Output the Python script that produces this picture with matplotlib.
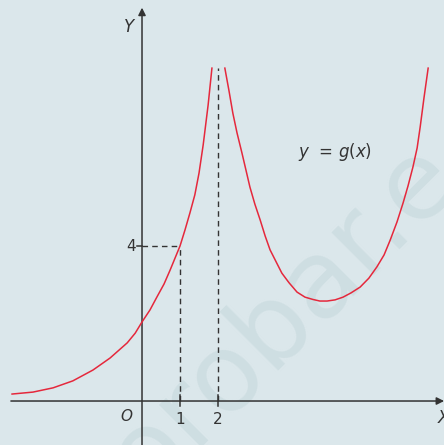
import matplotlib.pyplot as plt

left_x = [-3.42, -2.87, -2.34, -1.82, -1.29, -0.84, -0.39, -0.18, 0.0, 0.21, 0.39,
          0.58, 0.74, 0.87, 1.0, 1.13, 1.26, 1.39, 1.50, 1.61, 1.74, 1.84]
left_y = [0.18, 0.23, 0.34, 0.52, 0.80, 1.11, 1.50, 1.75, 2.04, 2.35, 2.68,
          3.02, 3.38, 3.69, 4.0, 4.41, 4.85, 5.32, 5.88, 6.61, 7.64, 8.59]

right_x = [2.18, 2.29, 2.39, 2.50, 2.63, 2.74, 2.84, 2.97, 3.11, 3.24, 3.37, 3.53,
           3.68, 3.87, 4.08, 4.29, 4.50, 4.68, 4.87, 5.08, 5.29, 5.50, 5.74, 5.97,
           6.18, 6.37, 6.53, 6.71, 6.87, 7.00, 7.13, 7.24, 7.32, 7.42, 7.53]
right_y = [8.59, 8.00, 7.43, 6.92, 6.40, 5.94, 5.52, 5.08, 4.67, 4.26, 3.90, 3.59,
           3.30, 3.05, 2.81, 2.68, 2.62, 2.58, 2.58, 2.61, 2.68, 2.79, 2.94, 3.17,
           3.46, 3.77, 4.15, 4.62, 5.11, 5.55, 6.04, 6.53, 7.07, 7.82, 8.59]

x_ticks = [1, 2]
y_ticks = [4]
top = 8.59

bg = "#dbe7eb"
axis_col = "#333333"
curve_col = "#e5283c"

fig = plt.figure(figsize=(4.44, 4.45), dpi=100, facecolor=bg)
ax = fig.add_axes([0, 0, 1, 1], facecolor=bg)
ax.set_xlim(-3.737, 7.947)
ax.set_ylim(-1.135, 10.348)
ax.axis("off")

# faint watermark
ax.text(3.72, 2.15, "orobar.e", rotation=45, fontsize=78, color="#cedee2",
        ha="center", va="center", zorder=0, family="DejaVu Sans")

# axes with arrows
ax.annotate("", xy=(7.95, 0), xytext=(-3.45, 0),
            arrowprops=dict(arrowstyle="-|>", color=axis_col, lw=1.1,
                            mutation_scale=11, shrinkA=0, shrinkB=0), zorder=2)
ax.annotate("", xy=(0, 10.15), xytext=(0, -1.2),
            arrowprops=dict(arrowstyle="-|>", color=axis_col, lw=1.1,
                            mutation_scale=11, shrinkA=0, shrinkB=0), zorder=2)

# ticks
for t in x_ticks:
    ax.plot([t, t], [-0.13, 0.15], color=axis_col, lw=1.1, zorder=2)
    ax.text(t, -0.28, str(t), ha="center", va="top", fontsize=11, color=axis_col)
for t in y_ticks:
    ax.plot([-0.13, 0], [t, t], color=axis_col, lw=1.1, zorder=2)
    ax.text(-0.16, t, str(t), ha="right", va="center", fontsize=11, color=axis_col)

# dashed guide lines
dash = dict(color=axis_col, lw=1.0, ls=(0, (4, 3)), zorder=2)
ax.plot([0, 1], [4, 4], **dash)
ax.plot([1, 1], [0, 4], **dash)
ax.plot([2, 2], [0, top], **dash)

# curve
ax.plot(left_x, left_y, color=curve_col, lw=1.1, zorder=3, solid_joinstyle="round")
ax.plot(right_x, right_y, color=curve_col, lw=1.1, zorder=3, solid_joinstyle="round")

# labels
ax.text(-0.25, -0.2, "O", ha="right", va="top", fontsize=11, style="italic", color=axis_col)
ax.text(-0.22, 9.65, "Y", ha="right", va="center", fontsize=12, style="italic", color=axis_col)
ax.text(7.93, -0.45, "X", ha="center", va="center", fontsize=12, style="italic", color=axis_col)
ax.text(5.07, 6.42, "$y$  = $g$($x$)", ha="center", va="center", fontsize=12, color=axis_col)

fig.savefig("out.png", dpi=100, facecolor=bg)
